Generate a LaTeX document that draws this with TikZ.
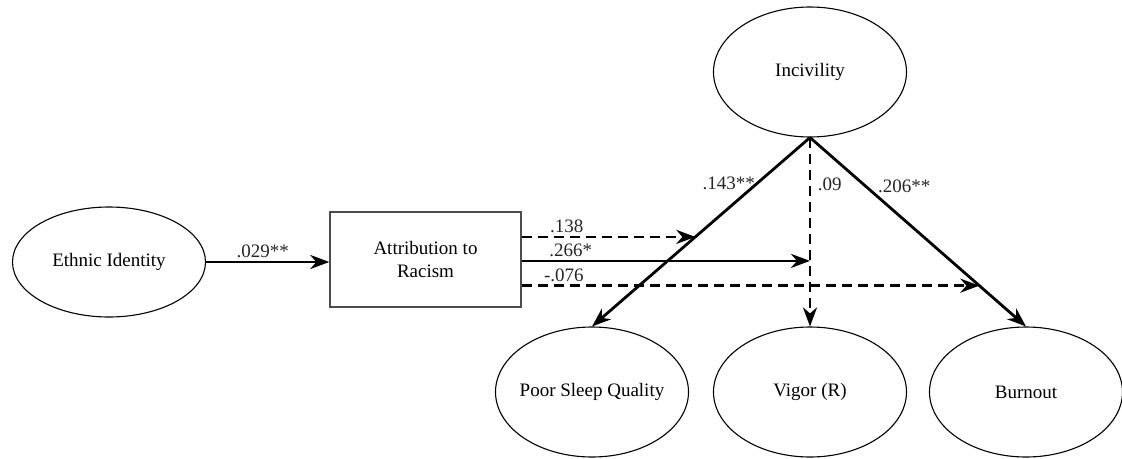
\documentclass[tikz,border=0pt]{standalone}
\usepackage{fontspec}
\setmainfont{Liberation Serif}
\usetikzlibrary{shapes.geometric,arrows.meta,calc}

\tikzset{
  latent/.style={ellipse, draw=black, line width=1.1pt, minimum width=193pt, minimum height=130pt, inner sep=0pt, font=\fontsize{19}{23}\selectfont},
  boxnode/.style={rectangle, draw=black!70, line width=1.4pt, minimum width=191pt, minimum height=95pt, align=center, font=\fontsize{19}{23}\selectfont},
  path/.style={line width=2.8pt, -{Stealth[length=19pt,width=14pt,inset=6pt]}},
  dpath/.style={path, dash pattern=on 10pt off 6pt},
  coef/.style={font=\fontsize{19}{23}\selectfont, inner sep=1.5pt, text=black!85},
}

\begin{document}
\begin{tikzpicture}[x=1pt,y=-1pt]
  \useasboundingbox (0,0) rectangle (1122,458);

  % variables
  \node[latent, minimum width=193pt, minimum height=110pt] (eth) at (109,262) {Ethnic Identity};
  \node[boxnode] (attr) at (425.5,259.5) {Attribution to\\Racism};
  \node[latent] (inc) at (810,72) {Incivility};
  \node[latent] (sleep) at (592,392) {\makebox[0pt]{Poor Sleep Quality}};
  \node[latent] (vig) at (810,392) {Vigor (R)};
  \node[latent] (burn) at (1026,392) {Burnout};

  % paths from Incivility
  \draw[path] (inc.south) -- node[coef, pos=0.24, anchor=east] {.143**} (sleep.north);
  \draw[dpath] (inc.south) -- node[coef, pos=0.25, anchor=west, xshift=5pt] {.09} (vig.north);
  \draw[path] (inc.south) -- node[coef, pos=0.26, anchor=west, xshift=9pt] {.206**} (burn.north);

  % moderation targets on the Incivility paths
  \coordinate (m1) at ($(inc.south)!0.526!(sleep.north)$);
  \coordinate (m2) at ($(inc.south)!0.653!(vig.north)$);
  \coordinate (m3) at ($(inc.south)!0.784!(burn.north)$);

  % paths from Ethnic Identity and Attribution to Racism
  \draw[path] (eth.east) -- node[coef, pos=0.46, anchor=south, yshift=1pt] {.029**} (eth.east -| attr.west);
  \draw[dpath] (attr.east |- m1) -- node[coef, pos=0.26, anchor=south, yshift=1pt] {.138} (m1);
  \draw[path] (attr.east |- m2) -- node[coef, pos=0.17, anchor=south, yshift=1pt] {.266*} (m2);
  \draw[dpath] (attr.east |- m3) -- node[coef, pos=0.092, anchor=south, yshift=1pt] {-.076} (m3);
\end{tikzpicture}
\end{document}
